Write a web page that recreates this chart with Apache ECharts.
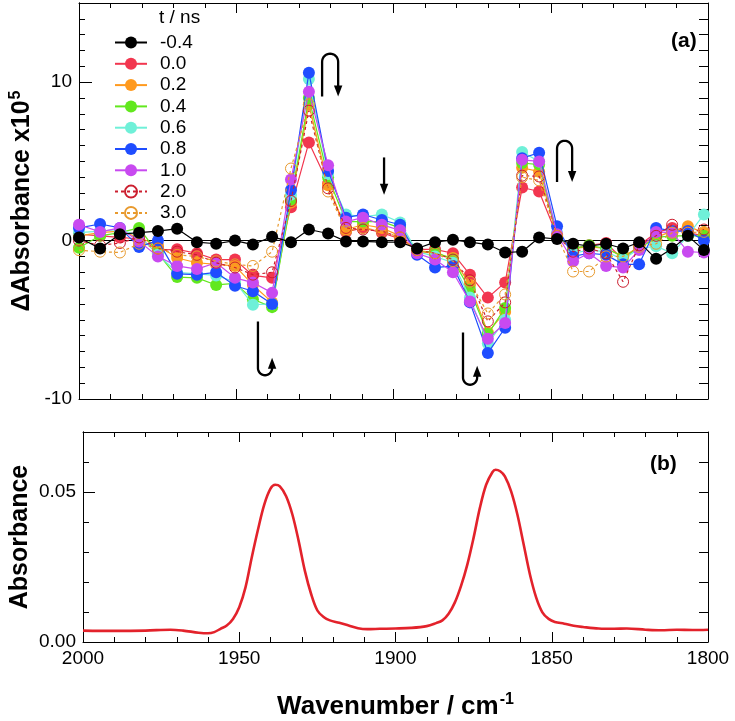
<!DOCTYPE html>
<html><head><meta charset="utf-8">
<script src="https://cdn.jsdelivr.net/npm/echarts@6/dist/echarts.min.js"></script>
<style>html,body{margin:0;padding:0;background:#fff}#c{width:735px;height:721px}</style>
</head><body><div id="c"></div>
<script>
// ---- Panel (a): transient difference spectra (ΔAbsorbance x10^5) ----
const wavenumbers = [2000,1993.3,1987.0,1980.9,1974.9,1968.8,1962.5,1956.4,1950.4,1944.7,1938.6,1932.6,1926.9,1920.8,1915.1,1909.7,1903.7,1897.9,1892.5,1886.8,1881.1,1875.7,1870.0,1864.5,1859.1,1853.7,1848.0,1842.9,1837.8,1832.4,1827.0,1821.9,1816.5,1811.4,1806.4,1801.3];
const delayLabels = ['-0.4','0.0','0.2','0.4','0.6','0.8','1.0','2.0','3.0'];
const dA_m04 = [0.2,-0.5,0.4,0.5,0.6,0.75,-0.1,-0.2,0.0,-0.25,0.25,-0.1,0.7,0.45,-0.05,-0.05,-0.1,-0.1,-0.5,-0.1,0.05,-0.1,-0.25,-0.75,-0.7,0.2,0.1,-0.2,-0.35,-0.2,-0.5,-0.1,-1.15,-0.5,0.3,-0.6];
const dA_00 = [0.4,0.3,0.2,0.1,-0.6,-0.55,-0.8,-1.2,-1.2,-2.2,-2.35,2.1,6.2,3.6,0.55,0.8,0.5,0.1,-0.55,-0.55,-0.8,-2.15,-3.6,-2.65,3.35,3.1,0.3,-0.5,-0.3,-0.15,-1.2,-0.3,0.5,0.8,0.5,0.3];
const dA_02 = [0.3,0.5,0.6,0.2,-0.3,-1.1,-1.4,-1.5,-1.6,-2.8,-3.9,2.4,8.6,3.5,0.7,1.0,0.8,0.3,-0.7,-0.8,-1.1,-2.8,-5.8,-4.5,4.6,4.35,0.3,-0.5,-0.4,-0.5,-1.0,-0.4,0.2,0.6,0.9,0.5];
const dA_04 = [-0.45,0.3,0.5,0.8,-0.8,-2.3,-2.35,-2.8,-2.7,-3.7,-4.2,2.6,9.0,4.0,1.2,1.2,1.2,0.8,-0.7,-0.7,-1.2,-3.1,-5.9,-4.25,4.9,4.8,0.3,-0.5,-0.3,-0.5,-1.0,-0.5,0.2,0.3,0.3,0.3];
const dA_06 = [0.5,0.6,0.7,0.3,-0.9,-2.0,-2.1,-2.2,-2.6,-4.05,-4.0,2.9,10.2,4.2,1.65,1.5,1.65,1.15,-0.7,-1.0,-1.4,-3.6,-6.5,-5.0,5.6,5.0,0.5,-0.8,-0.6,-0.7,-1.2,-0.5,-0.35,-0.8,0.3,1.65];
const dA_08 = [0.8,1.05,0.8,-0.4,0.0,-2.1,-2.15,-2.0,-2.85,-3.2,-4.0,3.2,10.6,4.4,1.45,1.65,1.3,1.0,-0.9,-1.7,-1.6,-3.9,-7.1,-5.5,5.2,5.55,0.9,-1.0,-0.8,-0.9,-1.5,-1.5,0.8,0.6,0.6,0.0];
const dA_10 = [1.0,0.55,0.8,-0.05,-1.0,-1.6,-1.8,-1.4,-2.35,-2.65,-3.3,3.85,9.4,4.75,1.2,1.45,1.0,0.65,-0.8,-1.2,-2.0,-3.85,-6.2,-5.2,5.1,5.0,0.4,-1.3,-0.8,-1.6,-1.7,-0.6,0.55,0.5,-0.7,-0.75];
const dA_20 = [0.0,-0.3,-0.15,0.2,-0.5,-0.7,-0.9,-1.4,-1.7,-2.15,-2.0,2.5,8.2,3.3,0.8,0.7,0.6,0.2,-0.6,-0.8,-1.2,-2.5,-5.1,-3.9,4.1,4.05,0.3,-0.7,-0.5,-0.8,-2.6,-0.3,0.3,1.0,0.5,0.7];
const dA_30 = [-0.6,-0.7,-0.75,-0.2,-0.5,-0.9,-1.0,-1.3,-1.5,-1.6,-0.7,4.55,8.6,3.1,0.6,0.8,0.6,0.2,-0.6,-0.8,-1.3,-2.6,-4.6,-3.4,4.0,3.8,0.3,-1.95,-1.95,-1.0,-1.0,-0.4,-0.2,0.5,0.5,0.55];

// ---- Panel (b): ground-state FTIR absorbance ----
const irWavenumbers = [2000,1990,1980,1972,1968,1963,1960,1958,1956,1954,1952,1950,1948,1946,1944,1942,1940,1938.5,1937,1935,1933,1931,1929,1927,1925,1923,1921,1918,1915,1912,1909,1905,1900,1895,1890,1887,1885,1883,1881,1879,1877,1875,1873,1871,1869,1868,1866.5,1865,1863,1861,1859,1857,1855,1853,1851,1849,1846,1843,1840,1835,1830,1826,1820,1815,1810,1805,1800];
const irAbsorbance = [0.0038,0.0037,0.0038,0.0041,0.0038,0.0031,0.0029,0.0033,0.0044,0.0055,0.0077,0.0116,0.0182,0.0282,0.0375,0.0458,0.0511,0.0524,0.0519,0.0486,0.0425,0.0337,0.0237,0.016,0.0105,0.0083,0.0072,0.0064,0.0055,0.0046,0.0043,0.0044,0.0045,0.0047,0.0053,0.0063,0.0072,0.0094,0.0132,0.0188,0.0259,0.0348,0.0447,0.0524,0.0566,0.0574,0.0569,0.0552,0.0502,0.0425,0.0326,0.0226,0.0149,0.0099,0.0077,0.0067,0.0061,0.0054,0.005,0.0045,0.0044,0.0045,0.0041,0.0039,0.0041,0.004,0.0041];

// annotation arrows, in data coordinates of panel (a)
const capArrows = [ {xa:1922.7, xb:1917.6, yEnd:9.1, yTurn:11.8}, {xa:1848.0, xb:1843.2, yEnd:3.7, yTurn:6.3} ];
const cupArrows = [ {xa:1943.1, xb:1938.6, yStart:-5.1, yTurn:-8.5, yEnd:-7.4}, {xa:1877.9, xb:1873.4, yStart:-5.8, yTurn:-9.1, yEnd:-7.9} ];
const downArrows = [ {x:1903.0, y0:5.25, y1:2.9} ];

const FONT = "'Liberation Sans', Arial, Helvetica, sans-serif";
const seriesDefs = [
  {vals:dA_m04, color:'#000000', open:false, z:9},
  {vals:dA_00, color:'#f2364f', open:false, z:2},
  {vals:dA_02, color:'#ff9a1f', open:false, z:3},
  {vals:dA_04, color:'#62e81e', open:false, z:4},
  {vals:dA_06, color:'#6ff0d8', open:false, z:5},
  {vals:dA_08, color:'#1f4dff', open:false, z:6},
  {vals:dA_10, color:'#c84af0', open:false, z:7},
  {vals:dA_20, color:'#cc1f2f', open:true, z:8},
  {vals:dA_30, color:'#e89a2e', open:true, z:8}
];

const chart = echarts.init(document.getElementById('c'), null, {renderer:'canvas'});

function xAx(grid, pos, labels, extra) {
  return Object.assign({
    type:'value', gridIndex:grid, position:pos, min:1800, max:2000, inverse:true, interval:50,
    axisLine:{show:true, onZero:false, lineStyle:{color:'#000', width:1}},
    axisTick:{show:true, inside:true, length:10, lineStyle:{color:'#000', width:1}},
    minorTick:{show:true, splitNumber:5, length:5, lineStyle:{color:'#000', width:1}},
    splitLine:{show:false}, minorSplitLine:{show:false},
    axisLabel:{show:labels, formatter: v => String(v), color:'#000', fontSize:19, fontFamily:FONT, margin:7}
  }, extra||{});
}
function yAx(grid, pos, min, max, interval, tickLen, labelFmt, extra) {
  return Object.assign({
    type:'value', gridIndex:grid, position:pos, min:min, max:max, interval:interval,
    axisLine:{show:true, onZero:false, lineStyle:{color:'#000', width:1}},
    axisTick:{show:true, inside:true, length:tickLen, lineStyle:{color:'#000', width:1}},
    splitLine:{show:false},
    axisLabel:{show:!!labelFmt, formatter:labelFmt||undefined, color:'#000', fontSize:19, fontFamily:FONT, margin:7, showMaxLabel:true, showMinLabel:true}
  }, extra||{});
}

const series = seriesDefs.map((d, i) => {
  const s = {
    name: delayLabels[i], type:'line', xAxisIndex:0, yAxisIndex:0, z:d.z,
    data: wavenumbers.map((w, k) => [w, d.vals[k]]),
    symbol:'circle', symbolSize: d.open ? 11 : 12, showSymbol:true,
    lineStyle:{color:d.color, width:1.2, type: d.open ? [3,3] : 'solid'},
    itemStyle: d.open ? {color:'rgba(255,255,255,0)', borderColor:d.color, borderWidth:1} : {color:d.color},
    emphasis:{disabled:true}, animation:false
  };
  if (i === 0) {
    s.markLine = {silent:true, symbol:['none','none'], label:{show:false}, z:1,
      lineStyle:{color:'#000', width:1, type:'solid'}, data:[{yAxis:0}]};
  }
  return s;
});
series.push({
  name:'FTIR', type:'line', xAxisIndex:2, yAxisIndex:3,
  data: irWavenumbers.map((w, k) => [w, irAbsorbance[k]]),
  showSymbol:false, symbol:'none', smooth:0.35,
  lineStyle:{color:'#e3222b', width:2.6}, emphasis:{disabled:true}, animation:false
});

const option = {
  animation:false,
  backgroundColor:'#fff',
  textStyle:{fontFamily:FONT},
  grid:[
    {left:79, top:3, width:629, height:396},
    {left:79, top:432, width:629, height:210}
  ],
  xAxis:[
    xAx(0,'bottom',false),
    xAx(0,'top',false),
    xAx(1,'bottom',true,{
      name:'Wavenumber / cm{sup|-1}', nameLocation:'middle', nameGap:50, nameMoveOverlap:false,
      nameTextStyle:{color:'#000', fontSize:26, fontWeight:'bold', fontFamily:FONT,
        rich:{sup:{fontSize:16, fontWeight:'bold', fontFamily:FONT, color:'#000', verticalAlign:'top', padding:[0,0,13,1]}}}
    }),
    xAx(1,'top',false)
  ],
  yAxis:[
    yAx(0,'left',-10,15,1,6, v => (v===-10||v===0||v===10) ? String(v) : '', {
      name:'ΔAbsorbance x10{sup|5}', nameLocation:'middle', nameGap:42, nameRotate:90, nameMoveOverlap:false,
      nameTextStyle:{color:'#000', fontSize:25, fontWeight:'bold', fontFamily:FONT,
        rich:{sup:{fontSize:16, fontWeight:'bold', fontFamily:FONT, color:'#000', verticalAlign:'top', padding:[0,0,13,1]}}}
    }),
    yAx(0,'left',-10,15,10,13,null),
    yAx(0,'right',-10,15,1,9,null),
    yAx(1,'left',0,0.07,0.01,6, v => (Math.abs(v)<1e-9 ? '0.00' : (Math.abs(v-0.05)<1e-9 ? '0.05' : '')), {
      name:'Absorbance', nameLocation:'middle', nameGap:50, nameRotate:90, nameMoveOverlap:false,
      nameTextStyle:{color:'#000', fontSize:25, fontWeight:'bold', fontFamily:FONT}
    }),
    yAx(1,'left',0,0.07,0.05,12,null),
    yAx(1,'right',0,0.07,0.01,9,null)
  ],
  legend:{
    orient:'vertical', left:109, top:28, padding:5, itemWidth:32, itemHeight:15, itemGap:2.3,
    data: delayLabels, selectedMode:false,
    textStyle:{color:'#000', fontSize:19, fontFamily:FONT, lineHeight:19, padding:[0,0,0,8]}
  },
  series: series
};
chart.setOption(option);

// static text labels + arrows (arrows positioned via the axes)
function P(wn, v){ return chart.convertToPixel({seriesIndex:0}, [wn, v]); }
const graphics = [
  {type:'text', left:159, top:8, style:{text:'t / ns', font:'19px '+FONT, fill:'#000'}},
  {type:'text', left:671, top:31, style:{text:'(a)', font:'bold 21px '+FONT, fill:'#000'}},
  {type:'text', left:650, top:454, style:{text:'(b)', font:'bold 21px '+FONT, fill:'#000'}}
];
const SW = 2.3, HL = 11, HW = 4.2;
function arcPts(cx, cy, r, a0, a1, n){ const out=[]; for(let i=0;i<=n;i++){const a=a0+(a1-a0)*i/n; out.push([cx+r*Math.cos(a), cy+r*Math.sin(a)]);} return out; }
capArrows.forEach(a => {
  const pL = P(a.xa, a.yEnd), pR = P(a.xb, a.yEnd), pT = P(a.xa, a.yTurn);
  const r = (pR[0]-pL[0])/2, cx = (pL[0]+pR[0])/2, cy = pT[1] + r;
  const pts = [[pL[0], pL[1]], [pL[0], cy]].concat(arcPts(cx, cy, r, Math.PI, 2*Math.PI, 16)).concat([[pR[0], pR[1]-HL+2]]);
  graphics.push({type:'polyline', shape:{points:pts}, style:{stroke:'#000', lineWidth:SW, fill:null}});
  graphics.push({type:'polygon', shape:{points:[[pR[0]-HW, pR[1]-HL],[pR[0]+HW, pR[1]-HL],[pR[0], pR[1]]]}, style:{fill:'#000'}});
});
cupArrows.forEach(a => {
  const pL = P(a.xa, a.yStart), pB = P(a.xa, a.yTurn), pR = P(a.xb, a.yEnd);
  const r = (pR[0]-pL[0])/2, cx = (pL[0]+pR[0])/2, cy = pB[1] - r;
  const pts = [[pL[0], pL[1]], [pL[0], cy]].concat(arcPts(cx, cy, r, Math.PI, 0, 16)).concat([[pR[0], pR[1]+HL-2]]);
  graphics.push({type:'polyline', shape:{points:pts}, style:{stroke:'#000', lineWidth:SW, fill:null}});
  graphics.push({type:'polygon', shape:{points:[[pR[0]-HW, pR[1]+HL],[pR[0]+HW, pR[1]+HL],[pR[0], pR[1]]]}, style:{fill:'#000'}});
});
downArrows.forEach(a => {
  const p0 = P(a.x, a.y0), p1 = P(a.x, a.y1);
  graphics.push({type:'polyline', shape:{points:[[p0[0],p0[1]],[p1[0],p1[1]-HL+2]]}, style:{stroke:'#000', lineWidth:SW, fill:null}});
  graphics.push({type:'polygon', shape:{points:[[p1[0]-HW, p1[1]-HL],[p1[0]+HW, p1[1]-HL],[p1[0], p1[1]]]}, style:{fill:'#000'}});
});
chart.setOption({graphic: graphics});
</script>
</body></html>
